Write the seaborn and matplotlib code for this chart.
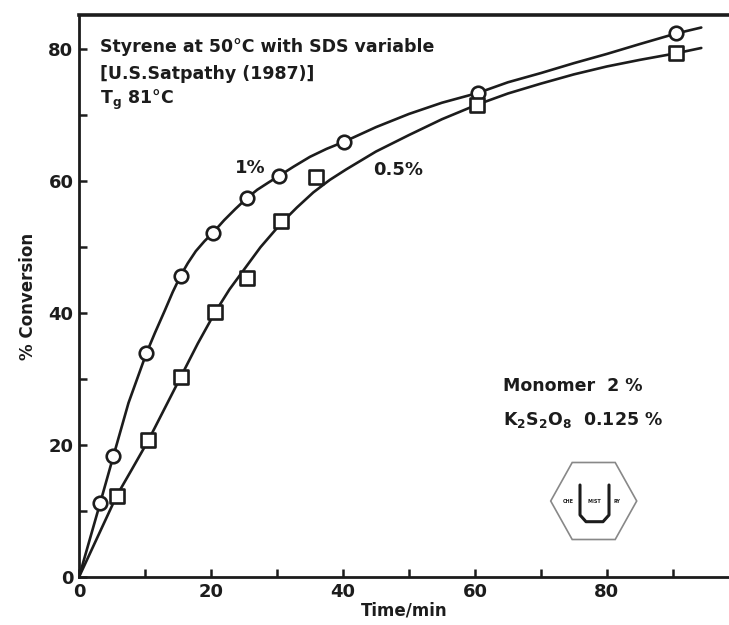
import matplotlib
matplotlib.use("Agg")
import matplotlib.pyplot as plt
import seaborn as sns
import pandas as pd
import numpy as np
from matplotlib.patches import RegularPolygon
from matplotlib.transforms import Affine2D

# ---- data ----
t_1pct = [3.2, 5.2, 10.2, 15.4, 20.3, 25.4, 30.3, 40.2, 60.5, 90.5]
y_1pct = [11.2, 18.3, 33.9, 45.7, 52.2, 57.4, 60.8, 66.0, 73.4, 82.4]

t_05pct = [5.7, 10.5, 15.5, 20.6, 25.4, 30.6, 35.9, 60.3, 90.5]
y_05pct = [12.3, 20.7, 30.3, 40.1, 45.4, 53.9, 60.7, 71.6, 79.4]

# smoothed curves drawn in the figure
curve_t_1pct = [0, 3.2, 5.2, 7.5, 10.2, 11.5, 13, 14.2, 15.4, 16.5, 17.7, 19, 20.3,
                22, 23.7, 25.4, 27, 28.7, 30.3, 32.5, 35, 37.5, 40.2, 45, 50, 55,
                60.5, 65, 70, 75, 80, 85, 90.5, 94.3]
curve_y_1pct = [0, 11.2, 18.3, 26.4, 33.9, 37.0, 40.4, 43.2, 45.7, 47.6, 49.4, 50.9, 52.2,
                54.1, 55.8, 57.4, 58.7, 59.8, 60.8, 62.2, 63.7, 64.9, 66.0, 68.2, 70.2, 71.9,
                73.4, 75.0, 76.4, 77.9, 79.3, 80.8, 82.4, 83.3]

curve_t_05pct = [0, 5.7, 8, 10.5, 13, 15.5, 18, 20.6, 22.8, 25, 27.5, 30.6, 33, 35.5,
                 38, 40.5, 45, 50, 55, 60.3, 65, 70, 75, 80, 85, 90.5, 94.3]
curve_y_05pct = [0, 12.3, 16.3, 20.7, 25.6, 30.5, 35.4, 40.1, 43.6, 46.6, 50.0, 53.6, 56.0, 58.3,
                 60.2, 61.8, 64.5, 67.0, 69.4, 71.6, 73.3, 74.8, 76.2, 77.4, 78.4, 79.4, 80.2]

x_ticks = [0, 20, 40, 60, 80]
y_ticks = [0, 20, 40, 60, 80]
minor_ticks_x = [10, 30, 50, 70, 90]
minor_ticks_y = [10, 30, 50, 70]

sns.set_theme(style="white")
plt.rcParams['font.family'] = ['DejaVu Sans']
plt.rcParams['font.weight'] = 'bold'
plt.rcParams['mathtext.default'] = 'regular'

ink = "#1c1c1c"
fig = plt.figure(figsize=(7.29, 6.25), dpi=100)
ax = fig.add_axes([0.1084, 0.0768, 0.8916, 0.8992])

df_c1 = pd.DataFrame({"t": curve_t_1pct, "y": curve_y_1pct})
df_c2 = pd.DataFrame({"t": curve_t_05pct, "y": curve_y_05pct})
sns.lineplot(data=df_c1, x="t", y="y", ax=ax, color=ink, lw=1.9, sort=False, zorder=2)
sns.lineplot(data=df_c2, x="t", y="y", ax=ax, color=ink, lw=1.9, sort=False, zorder=2)

df_p1 = pd.DataFrame({"t": t_1pct, "y": y_1pct})
df_p2 = pd.DataFrame({"t": t_05pct, "y": y_05pct})
sns.scatterplot(data=df_p1, x="t", y="y", ax=ax, marker="o", s=95,
                facecolor="white", edgecolor=ink, linewidth=1.9, zorder=3)
sns.scatterplot(data=df_p2, x="t", y="y", ax=ax, marker="s", s=95,
                facecolor="white", edgecolor=ink, linewidth=1.9, zorder=3)

ax.set_xlim(0, 98.5)
ax.set_ylim(0, 85.2)
ax.set_xticks(x_ticks)
ax.set_yticks(y_ticks)
ax.set_xticks(minor_ticks_x, minor=True)
ax.set_yticks(minor_ticks_y, minor=True)
ax.set_xticklabels([str(v) for v in x_ticks])
ax.set_yticklabels([str(v) for v in y_ticks])
ax.tick_params(axis="both", which="both", direction="in", length=6, width=1.8,
               color=ink, labelsize=13, labelcolor=ink, pad=4)
ax.tick_params(axis="x", which="both", bottom=True, top=False)
ax.tick_params(axis="y", which="both", left=True, right=False)

for s in ["left", "bottom", "top"]:
    ax.spines[s].set_color(ink)
    ax.spines[s].set_linewidth(2.0)
ax.spines["top"].set_linewidth(2.6)
ax.spines["right"].set_visible(False)

ax.set_xlabel("Time/min", fontsize=12, color=ink, labelpad=1, fontweight="bold")
ax.set_ylabel("% Conversion", fontsize=12, color=ink, labelpad=8, fontweight="bold")

txt_kw = dict(fontsize=12.5, color=ink, fontweight="bold", va="center", ha="left")
ax.text(3.2, 80.3, "Styrene at 50°C with SDS variable", **txt_kw)
ax.text(3.2, 76.2, "[U.S.Satpathy (1987)]", **txt_kw)
ax.text(3.2, 72.3, "T$_g$ 81°C", **txt_kw)

ax.text(25.9, 62.0, "1%", fontsize=13, color=ink, fontweight="bold", ha="center", va="center")
ax.text(48.4, 61.7, "0.5%", fontsize=13, color=ink, fontweight="bold", ha="center", va="center")

ax.text(64.3, 28.9, "Monomer  2 %", **txt_kw)
ax.text(64.3, 23.8, "K$_2$S$_2$O$_8$  0.125 %", **txt_kw)

# logo (hexagon badge), placed in figure pixels
hexagon = RegularPolygon((0, 0), numVertices=6, radius=1.0, orientation=np.pi / 2,
                         fill=False, edgecolor="#888888", lw=1.2)
hexagon.set_transform(Affine2D().scale(43, 38.5 / 0.866).translate(593.7, 625 - 501))
fig.patches.append(hexagon)
fig.lines.append(plt.Line2D([580, 580, 586, 603, 609, 609],
                            [625 - 485, 625 - 515, 625 - 521.7, 625 - 521.7, 625 - 515, 625 - 485],
                            transform=None, color=ink, lw=2.2, figure=fig))
fig.text(568 / 729, 1 - 501.5 / 625, "CHE", fontsize=3.5, ha="center", va="center", color=ink)
fig.text(594.5 / 729, 1 - 501.5 / 625, "MIST", fontsize=3.5, ha="center", va="center", color=ink)
fig.text(617 / 729, 1 - 501.5 / 625, "RY", fontsize=3.5, ha="center", va="center", color=ink)

fig.savefig("out.png", dpi=100, facecolor="white")
